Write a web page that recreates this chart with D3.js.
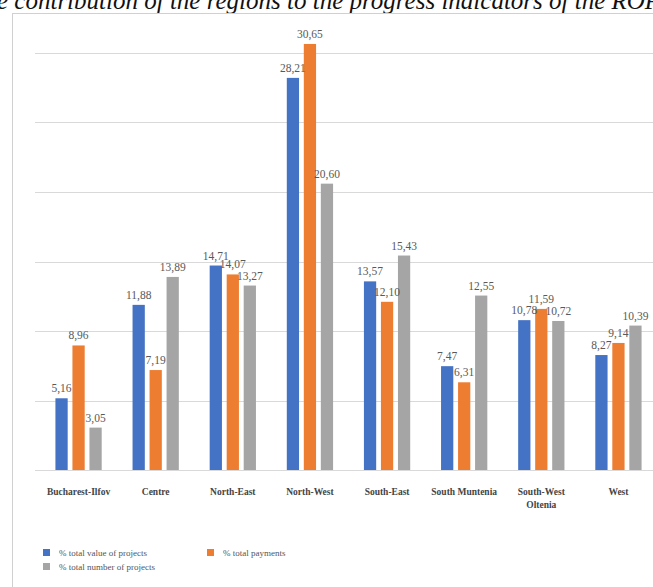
<!DOCTYPE html>
<html>
<head>
<meta charset="utf-8">
<script src="https://cdn.jsdelivr.net/npm/d3@7"></script>
<style>
  body{margin:0;background:#fff;}
  svg{display:block;}
</style>
</head>
<body>
<svg id="chart" width="653" height="587"></svg>
<script>
const regions=["Bucharest-Ilfov","Centre","North-East","North-West","South-East","South Muntenia","South-West Oltenia","West"];
const totalValue=[5.16,11.88,14.71,28.21,13.57,7.47,10.78,8.27];
const totalPayments=[8.96,7.19,14.07,30.65,12.10,6.31,11.59,9.14];
const totalNumber=[3.05,13.89,13.27,20.60,15.43,12.55,10.72,10.39];
const seriesNames=["% total value of projects","% total payments","% total number of projects"];
const yTicks=[0,5,10,15,20,25,30];

const colors=["#4472c4","#ed7d31","#a5a5a5"];
const seriesVals=[totalValue,totalPayments,totalNumber];

const svg=d3.select("#chart");
const W=653,H=587;

// caption of the source page, cut by the top edge as in the scan
svg.append("text")
  .attr("x",-3).attr("y",9)
  .attr("font-family","Liberation Serif, serif")
  .attr("font-style","italic")
  .attr("font-size","25px")
  .attr("fill","#111")
  .text("e contribution of the regions to the progress indicators of the ROP");

svg.append("rect")
  .attr("x",12.5).attr("y",13.5)
  .attr("width",700).attr("height",620)
  .attr("fill","none").attr("stroke","#d0d0d0");

const x=d3.scaleBand().domain(regions).range([40,657]).paddingInner(0.4).paddingOuter(0.2);
const xs=d3.scaleBand().domain(d3.range(3)).range([0,x.bandwidth()]).paddingInner(0.28);
const y=d3.scaleLinear().domain([0,30]).range([470,53]);

svg.append("g")
  .selectAll("line")
  .data(yTicks)
  .join("line")
  .attr("x1",35).attr("x2",W)
  .attr("y1",d=>Math.round(y(d))+0.5).attr("y2",d=>Math.round(y(d))+0.5)
  .attr("stroke","#d9d9d9").attr("stroke-width",1);

const fmt=v=>v.toFixed(2).replace(".",",");

const groups=svg.append("g")
  .selectAll("g")
  .data(regions)
  .join("g")
  .attr("transform",d=>`translate(${x(d)},0)`);

groups.selectAll("rect")
  .data((d,i)=>seriesVals.map((s,k)=>({k,v:s[i]})))
  .join("rect")
  .attr("x",d=>xs(d.k))
  .attr("y",d=>y(d.v))
  .attr("width",xs.bandwidth())
  .attr("height",d=>y(0)-y(d.v))
  .attr("fill",d=>colors[d.k]);

groups.selectAll("text.val")
  .data((d,i)=>seriesVals.map((s,k)=>({k,v:s[i]})))
  .join("text")
  .attr("class","val")
  .attr("x",d=>xs(d.k)+xs.bandwidth()/2)
  .attr("y",d=>y(d.v)-6)
  .attr("text-anchor","middle")
  .attr("font-family","Liberation Serif, serif")
  .attr("font-size","11.5px")
  .attr("fill","#595959")
  .text(d=>fmt(d.v));

// category labels
const cat=svg.append("g")
  .selectAll("text")
  .data(regions)
  .join("text")
  .attr("x",d=>x(d)+x.bandwidth()/2)
  .attr("y",495)
  .attr("text-anchor","middle")
  .attr("font-family","Liberation Serif, serif")
  .attr("font-size","9.5px")
  .attr("font-weight","bold")
  .attr("fill","#444");
cat.each(function(d){
  const t=d3.select(this);
  if(d==="South-West Oltenia"){
    t.append("tspan").attr("x",x(d)+x.bandwidth()/2).text("South-West");
    t.append("tspan").attr("x",x(d)+x.bandwidth()/2).attr("dy",13).text("Oltenia");
  } else t.text(d);
});

// legend
const legPos=[[43,553],[207,553],[43,567]];
const leg=svg.append("g")
  .selectAll("g")
  .data(seriesNames)
  .join("g")
  .attr("transform",(d,i)=>`translate(${legPos[i][0]},${legPos[i][1]})`);
leg.append("rect")
  .attr("x",0).attr("y",-4)
  .attr("width",7).attr("height",7)
  .attr("fill",(d,i)=>colors[i]);
leg.append("text")
  .attr("x",16).attr("y",3)
  .attr("font-family","Liberation Serif, serif")
  .attr("font-size","9px")
  .attr("fill","#555")
  .text(d=>d);
</script>
</body>
</html>
